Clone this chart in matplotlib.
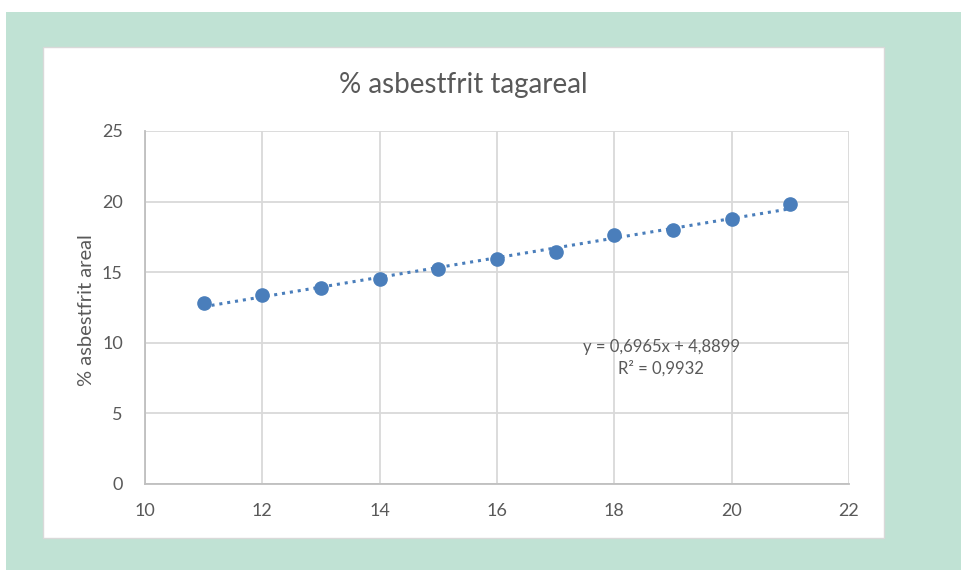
import numpy as np
import matplotlib.pyplot as plt
from matplotlib.patches import Rectangle

# data
x = [11, 12, 13, 14, 15, 16, 17, 18, 19, 20, 21]
y = [12.8, 13.4, 13.9, 14.5, 15.2, 15.9, 16.4, 17.6, 18.0, 18.8, 19.8]
title = '% asbestfrit tagareal'
ylabel = '% asbestfrit areal'
eq_text = 'y = 0,6965x + 4,8899\nR² = 0,9932'

plt.rcParams['font.family'] = ['Lato', 'DejaVu Sans']

W, H = 962, 570
fig = plt.figure(figsize=(W / 100, H / 100), dpi=100)
fig.patch.set_facecolor('white')

# green background and white chart card
fig.patches.append(Rectangle((6 / W, 0), (W - 6) / W, (H - 12) / H,
                             transform=fig.transFigure, facecolor='#c0e2d4',
                             edgecolor='none', zorder=0))
fig.patches.append(Rectangle((43 / W, (H - 538) / H), 841 / W, 491 / H,
                             transform=fig.transFigure, facecolor='white',
                             edgecolor='#d9d9d9', linewidth=1, zorder=1))

ax = fig.add_axes([145 / W, (H - 484) / H, 704 / W, 353 / H])
ax.set_facecolor('none')
ax.set_zorder(2)

ax.set_xlim(10, 22)
ax.set_ylim(0, 25)
ax.set_xticks(np.arange(10, 23, 2))
ax.set_yticks(np.arange(0, 26, 5))
ax.grid(True, color='#d9d9d9', linewidth=1.3)
ax.set_axisbelow(True)
for s in ['top', 'right']:
    ax.spines[s].set_visible(False)
for s in ['left', 'bottom']:
    ax.spines[s].set_color('#bfbfbf')
    ax.spines[s].set_linewidth(1.3)
ax.tick_params(axis='y', length=0, labelsize=13, labelcolor='#595959', pad=16)
ax.tick_params(axis='x', length=0, labelsize=13, labelcolor='#595959', pad=14)

# trendline
k, b = np.polyfit(x, y, 1)
xt = np.array([min(x), max(x)])
ax.plot(xt, k * xt + b, linestyle=(0, (1, 1.6)), color='#4a7ebb',
        linewidth=2.2, zorder=3)
ax.plot(x, y, 'o', color='#4a7ebb', markersize=9.5, zorder=4)

ax.text(18.8, 8.95, eq_text, ha='center', va='center', fontsize=12,
        color='#595959', linespacing=1.35)

fig.text(463 / W, 1 - 85 / H, title, ha='center', va='center',
         fontsize=20, color='#595959')
fig.text(87 / W, 1 - 310 / H, ylabel, ha='center', va='center',
         rotation=90, fontsize=14.5, color='#595959')

fig.savefig('out.png', dpi=100)
